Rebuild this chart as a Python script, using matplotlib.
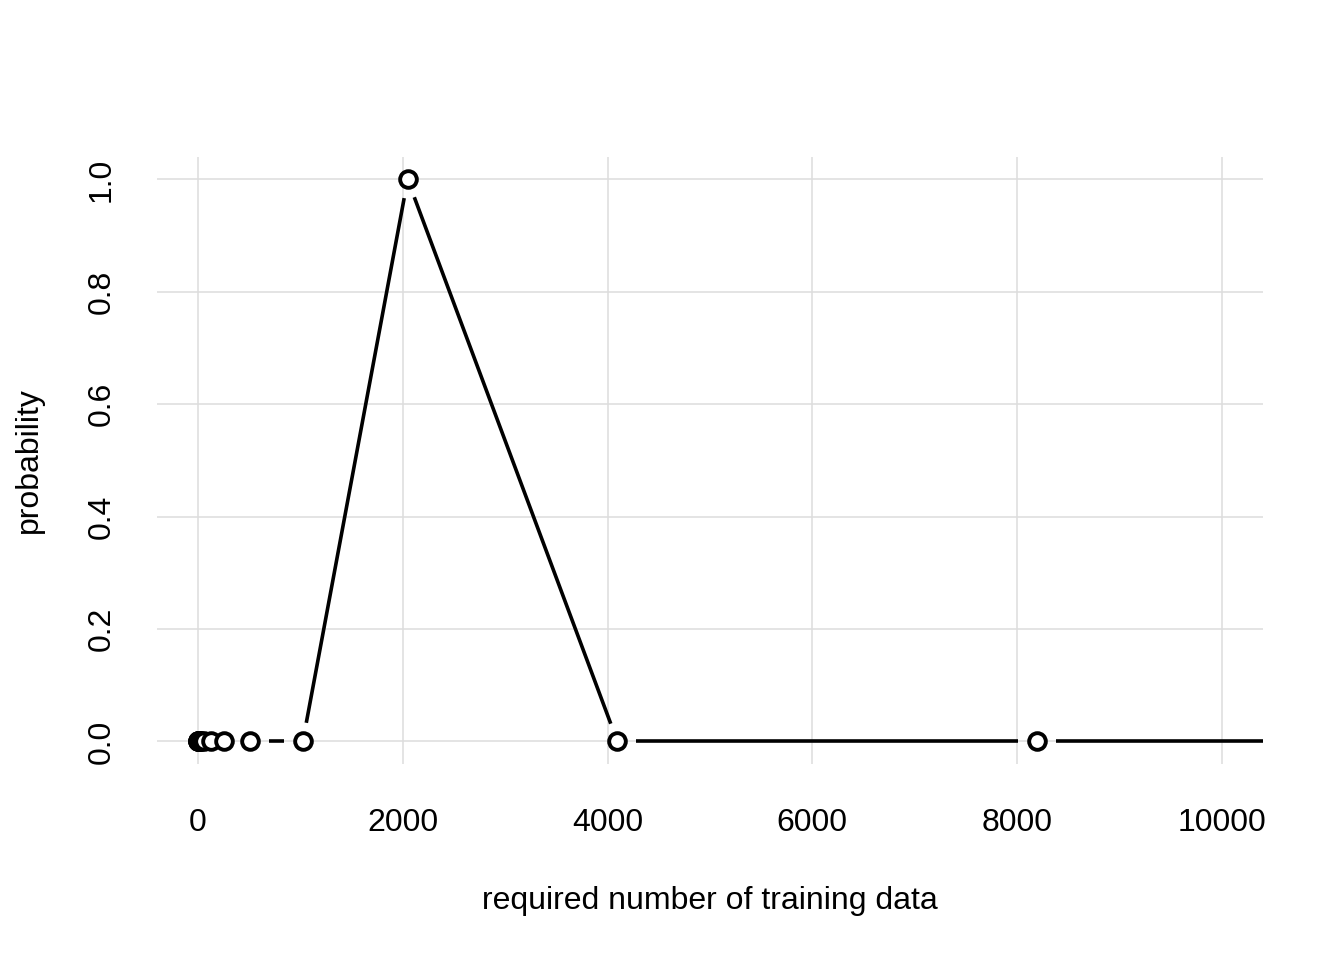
import numpy as np
import matplotlib
matplotlib.use("Agg")
import matplotlib.pyplot as plt

# training set sizes (powers of two) and probability
n_train = [1, 2, 4, 8, 16, 32, 64, 128, 256, 512, 1024, 2048, 4096, 8192, 16384]
prob = [0, 0, 0, 0, 0, 0, 0, 0, 0, 0, 0, 1, 0, 0, 0]

xticks = [0, 2000, 4000, 6000, 8000, 10000]
yticks = [0.0, 0.2, 0.4, 0.6, 0.8, 1.0]

plt.rcParams["font.family"] = ["Liberation Sans", "DejaVu Sans"]

fig = plt.figure(figsize=(13.44, 9.6), dpi=100)
ax = fig.add_axes([0.1168, 0.2042, 0.8229, 0.6323])
ax.set_xlim(-400, 10400)
ax.set_ylim(-0.04, 1.04)

ax.set_xticks(xticks)
ax.set_xticklabels([str(t) for t in xticks])
ax.set_yticks(yticks)
ax.set_yticklabels(["%.1f" % t for t in yticks], rotation=90, va="center")
ax.tick_params(axis="x", length=0, labelsize=23, pad=32)
ax.tick_params(axis="y", length=0, labelsize=23, pad=29)
for s in ax.spines.values():
    s.set_visible(False)
ax.grid(True, color="#dddddd", linewidth=1.1)
ax.set_axisbelow(True)

ax.set_xlabel("required number of training data", fontsize=23, labelpad=34)
ax.set_ylabel("probability", fontsize=23, labelpad=31)

# type="b" style: lines between points, leaving a gap around each point
fig.canvas.draw()
pts = ax.transData.transform(np.column_stack([n_train, prob]))
gap = 19
inv = ax.transData.inverted()
for i in range(len(pts) - 1):
    p0, p1 = pts[i], pts[i + 1]
    d = p1 - p0
    L = np.hypot(*d)
    if L <= 2 * gap:
        continue
    u = d / L
    a = inv.transform(p0 + u * gap)
    b = inv.transform(p1 - u * gap)
    ax.plot([a[0], b[0]], [a[1], b[1]], color="black", linewidth=2.6,
            solid_capstyle="butt")

ax.plot(n_train, prob, linestyle="none", marker="o", markersize=12,
        markerfacecolor="white", markeredgecolor="black",
        markeredgewidth=2.8, zorder=5)

plt.savefig("out.png", dpi=100)
